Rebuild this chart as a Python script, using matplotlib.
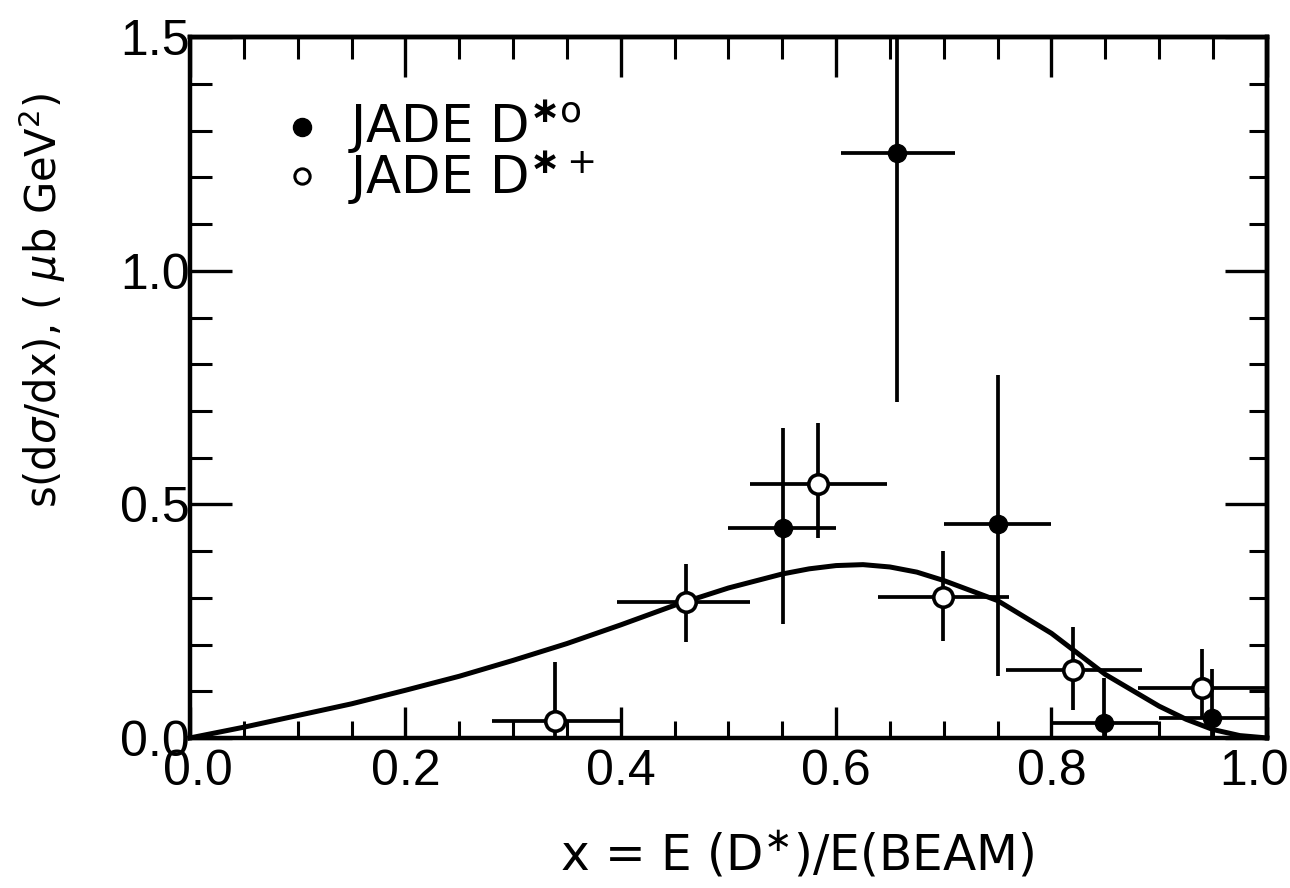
import matplotlib
matplotlib.use("Agg")
import matplotlib.pyplot as plt
from matplotlib.ticker import MultipleLocator

# JADE D*0 (filled)
d0_x = [0.551, 0.657, 0.750, 0.849, 0.949]
d0_y = [0.450, 1.253, 0.459, 0.033, 0.042]
d0_up = [0.664, 1.500, 0.777, 0.129, 0.147]
d0_lo = [0.243, 0.720, 0.133, 0.0, 0.0]
d0_xlo = [0.500, 0.605, 0.700, 0.800, 0.900]
d0_xhi = [0.600, 0.710, 0.800, 0.899, 1.000]

# JADE D*+ (open)
dp_x = [0.339, 0.461, 0.583, 0.699, 0.820, 0.940]
dp_y = [0.036, 0.290, 0.543, 0.301, 0.145, 0.106]
dp_up = [0.163, 0.372, 0.674, 0.400, 0.238, 0.190]
dp_lo = [0.0, 0.205, 0.427, 0.207, 0.060, 0.045]
dp_xlo = [0.280, 0.397, 0.520, 0.639, 0.758, 0.880]
dp_xhi = [0.400, 0.520, 0.647, 0.761, 0.884, 1.000]

# theory curve
curve_x = [0.0, 0.05, 0.10, 0.15, 0.20, 0.25, 0.30, 0.35, 0.40, 0.45, 0.50,
           0.55, 0.575, 0.60, 0.625, 0.65, 0.675, 0.70, 0.75, 0.80, 0.85,
           0.90, 0.925, 0.95, 0.975, 1.0]
curve_y = [0.0, 0.023, 0.048, 0.073, 0.102, 0.132, 0.166, 0.202, 0.242, 0.284, 0.321,
           0.351, 0.362, 0.369, 0.371, 0.366, 0.355, 0.337, 0.294, 0.224, 0.136,
           0.068, 0.040, 0.018, 0.005, 0.0]

x_ticks = [0.0, 0.2, 0.4, 0.6, 0.8, 1.0]
x_labels = ["0.0", "0.2", "0.4", "0.6", "0.8", "1.0"]
y_ticks = [0.0, 0.5, 1.0, 1.5]
y_labels = ["0.0", "0.5", "1.0", "1.5"]

lw_axis = 3.2
lw_err = 2.7

fig = plt.figure(figsize=(12.9, 8.88), dpi=100)
ax = fig.add_axes([0.1473, 0.169, 0.8347, 0.789])

ax.plot(curve_x, curve_y, color="black", lw=3.6, zorder=2, clip_on=False)

def err(x, y, lo, up, xlo, xhi):
    yerr = [[yy - l for yy, l in zip(y, lo)], [u - yy for yy, u in zip(y, up)]]
    xerr = [[xx - a for xx, a in zip(x, xlo)], [b - xx for xx, b in zip(x, xhi)]]
    return xerr, yerr

xe, ye = err(d0_x, d0_y, d0_lo, d0_up, d0_xlo, d0_xhi)
ax.errorbar(d0_x, d0_y, xerr=xe, yerr=ye, fmt="none", ecolor="black",
            elinewidth=lw_err, capsize=0, zorder=3)
xe, ye = err(dp_x, dp_y, dp_lo, dp_up, dp_xlo, dp_xhi)
ax.errorbar(dp_x, dp_y, xerr=xe, yerr=ye, fmt="none", ecolor="black",
            elinewidth=lw_err, capsize=0, zorder=3)

ax.plot(d0_x, d0_y, "o", color="black", ms=13, zorder=5)
ax.plot(dp_x, dp_y, "o", mfc="white", mec="black", mew=2.6, ms=14, zorder=5)

ax.set_xlim(0, 1.0)
ax.set_ylim(0, 1.5)
ax.set_xticks(x_ticks)
ax.set_yticks(y_ticks)
ax.set_xticklabels([])
ax.set_yticklabels(y_labels, fontfamily="Liberation Sans", fontsize=36)
ax.xaxis.set_minor_locator(MultipleLocator(0.05))
ax.yaxis.set_minor_locator(MultipleLocator(0.1))

# x tick labels placed by hand so the end ones sit inside the figure
x_shift = [6, 0, 0, 0, 0, -9]
for t, lab, dx in zip(x_ticks, x_labels, x_shift):
    ax.annotate(lab, xy=(t, 0), xycoords=("data", "axes fraction"),
                xytext=(dx, -8), textcoords="offset points", ha="center", va="top",
                fontsize=36, family="Liberation Sans", annotation_clip=False)

for s in ax.spines.values():
    s.set_linewidth(lw_axis)

ax.tick_params(axis="x", which="major", direction="in", length=22, width=2.4,
               bottom=True, top=False)
ax.tick_params(axis="x", which="minor", direction="in", length=12, width=2.2,
               bottom=True, top=False)
ax.tick_params(axis="y", which="major", direction="in", length=30, width=2.4,
               left=True, right=False, pad=0)
ax.tick_params(axis="y", which="minor", direction="in", length=16, width=2.2,
               left=True, right=False)

# top and right ticks have their own lengths
top = ax.secondary_xaxis("top")
top.set_xticks(x_ticks)
top.xaxis.set_minor_locator(MultipleLocator(0.05))
top.tick_params(which="major", direction="in", length=29, width=2.4, labeltop=False)
top.tick_params(which="minor", direction="in", length=16, width=2.2)
top.spines["top"].set_linewidth(lw_axis)

right = ax.secondary_yaxis("right")
right.set_yticks(y_ticks)
right.yaxis.set_minor_locator(MultipleLocator(0.1))
right.tick_params(which="major", direction="in", length=30, width=2.4, labelright=False)
right.tick_params(which="minor", direction="in", length=13, width=2.2)
right.spines["right"].set_linewidth(lw_axis)

fig.text(0.618, 0.037, r"x = E (D$^{\ast}$)/E(BEAM)", ha="center", va="center",
         fontsize=35, family="DejaVu Sans")
fig.text(0.033, 0.662, r"s(d$\sigma$/dx), ( $\mu$b GeV$^{2}$)", ha="center", va="center",
         rotation=90, fontsize=30, family="DejaVu Sans")

# legend drawn by hand
ax.plot([0.104], [1.307], "o", color="black", ms=13, clip_on=False)
ax.plot([0.104], [1.203], "o", mfc="white", mec="black", mew=2.2, ms=11, clip_on=False)
ax.text(0.147, 1.307, r"JADE D$^{\mathbf{\ast}\mathrm{o}}$", fontsize=37, va="center",
        family="DejaVu Sans")
ax.text(0.147, 1.198, r"JADE D$^{\mathbf{\ast}+}$", fontsize=37, va="center",
        family="DejaVu Sans")

fig.savefig("out.png", dpi=100)
